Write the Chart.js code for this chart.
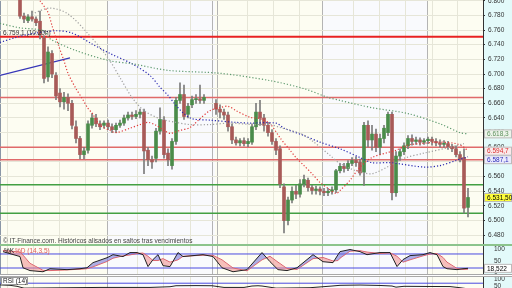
<!DOCTYPE html>
<html>
<head>
<meta charset="utf-8">
<script src="https://cdn.jsdelivr.net/npm/chart.js@4"></script>
<style>
html, body { margin: 0; padding: 0; background: #fff; width: 512px; height: 288px; overflow: hidden; }
.p { position: absolute; left: 0; width: 512px; }
canvas { display: block; }
</style>
</head>
<body>
<div class="p" style="top:0;height:244px"><canvas id="main" width="512" height="244"></canvas></div>
<div class="p" style="top:244px;height:2px;background:#8cc48c"></div>
<div class="p" style="top:246px;height:28px"><canvas id="stoch" width="512" height="28"></canvas></div>
<div class="p" style="top:274px;height:1px;background:#a8a8a8"></div>
<div class="p" style="top:276px;height:1px;background:#a8a8a8"></div>
<div class="p" style="top:277px;height:11px"><canvas id="rsi" width="512" height="11"></canvas></div>
<script>
/* candles, one per bar index (null = no trading) */
const opens  = [6815,6779,6773,6778,6775,6772,6750,6696,6728,6698,6674,6662,6668,6660,6628,6612,6590,6596,6630,6640,
                6632,6630,6633,6628,6624,6630,6633,6640,6644,6642,6645,6648,6596,6583,6585,6622,6637,6592,6575,6608,
                6664,6672,6645,6658,6665,6666,6664,null,null,6660,6652,6648,6644,6628,6610,6606,6609,6605,6607,6628,
                6648,6640,6630,6620,6608,6598,6546,6500,6528,6540,6536,6550,6555,6545,6541,6543,6540,6538,6540,6542,
                6568,6574,6571,6578,6582,6580,6566,6630,6610,6618,6600,6612,6620,6645,6538,6588,6594,6602,6612,6608,
                6610,6607,6609,6611,6608,6606,6604,6605,6601,6598,6590,6586,6518];
const highs  = [6822,6783,6781,6786,6778,6786,6752,6737,6732,6702,6680,6675,6673,6664,6636,6615,6600,6636,6646,6645,
                6636,6636,6637,6632,6633,6637,6644,6648,6648,6650,6652,6652,6600,6588,6626,6654,6642,6598,6612,6668,
                6688,6685,6660,6670,6672,6685,6672,null,null,6665,6658,6652,6648,6632,6614,6612,6613,6612,6632,6660,
                6664,6645,6634,6624,6612,6602,6550,6532,6546,6548,6556,6562,6558,6548,6547,6546,6544,6544,6546,6570,
                6578,6578,6582,6586,6587,6584,6634,6636,6630,6625,6618,6630,6648,6648,6594,6598,6606,6616,6617,6614,
                6613,6612,6614,6614,6612,6610,6609,6608,6604,6602,6594,6598,6544];
const lows   = [6776,6770,6770,6772,6766,6748,6688,6690,6695,6665,6655,6652,6650,6625,6606,6584,6584,6592,6626,6628,
                6624,6626,6624,6620,6620,6627,6630,6637,6638,6639,6640,6564,6575,6571,6580,6618,6585,6575,6570,6604,
                6660,6638,6640,6654,6660,6660,6660,null,null,6645,6640,6638,6622,6605,6603,6602,6602,6601,6604,6624,
                6630,6622,6615,6604,6590,6545,6483,6494,6524,6530,6532,6546,6540,6536,6536,6535,6534,6534,6536,6538,
                6565,6566,6568,6575,6574,6562,6548,6600,6596,6594,6590,6606,6616,6528,6533,6582,6590,6598,6603,6604,
                6603,6604,6605,6603,6602,6600,6600,6597,6594,6587,6580,6510,6505];
const closes = [6779,6775,6778,6775,6770,6753,6694,6730,6700,6670,6662,6668,6660,6630,6612,6590,6595,6632,6640,6632,
                6628,6633,6628,6624,6630,6633,6640,6644,6642,6645,6648,6595,6583,6580,6622,6638,6590,6583,6608,6664,
                6672,6642,6656,6665,6666,6664,6668,null,null,6652,6648,6644,6628,6610,6606,6609,6605,6608,6628,6648,
                6640,6630,6620,6608,6596,6550,6500,6528,6540,6536,6550,6556,6545,6541,6543,6540,6538,6540,6542,6568,
                6574,6571,6578,6582,6579,6565,6630,6610,6618,6600,6612,6626,6645,6538,6588,6594,6602,6612,6608,6610,
                6607,6609,6611,6608,6606,6604,6605,6601,6598,6590,6584,6517,6531.5];

/* moving averages: [bar index, value] */
const maRed   = [[5,6800],[7,6784],[8,6766],[9.5,6741],[11,6718],[12,6701],[14,6680],[15.5,6667],[17,6653],[18,6647],
                 [20,6630],[22.5,6623],[24,6620],[27.5,6626],[30,6631],[32,6634],[34,6630],[36,6623],[37.5,6619],[40,6623],
                 [42.5,6627],[45,6639],[47.5,6650],[50,6654],[52,6656],[54,6650],[57.5,6641],[60,6639],[62.5,6632],[65,6613],
                 [67.5,6596],[69,6586],[71,6575],[73,6564],[75,6552],[77,6544],[79,6537],[80,6541],[82.5,6555],[85,6573],
                 [88,6586],[92,6593],[94,6596],[97,6603],[100,6605],[105,6607],[109,6605],[111,6600],[112,6594.7]];
const maBlue  = [[-5,6743],[-1,6750],[3,6755],[9,6759],[13,6756],[18,6741],[22.5,6728],[28,6714],[32.5,6698],[35,6682],
                 [37,6671],[39,6657],[41,6646],[43,6639],[47.5,6637],[54,6634],[57.5,6633],[64,6633],[66,6626],[71,6616],
                 [75,6607],[80,6598],[85,6586],[88,6579],[92.5,6579],[101,6573],[105,6575],[109,6582],[112,6587.1]];
const maGreen = [[-5,6769],[0,6763],[6,6759],[7.5,6748],[14,6732],[22.5,6718],[28,6714],[37,6705],[50,6701],[62.5,6691],
                 [71,6680],[77,6668],[80,6664],[88,6654],[97,6646],[105,6632],[110,6620],[112,6618.3]];
const maGray  = [[3,6782],[7.5,6790],[12,6782],[17,6755],[22,6722],[25,6695],[28,6668],[31,6650],[35,6639],[39,6634],
                 [42.5,6631],[47.5,6631],[52.5,6633],[58,6631],[62.5,6631],[65,6627],[70,6619],[73,6609],[77.5,6589],[80,6578],
                 [84,6568],[88,6564],[92.5,6575],[96,6585],[101,6592],[107.5,6600],[111,6605]];
const trendLine = [[-5,6698],[12.5,6722]];
const redLevels = [6751, 6668, 6600, 6583];
const greenLevels = [6549, 6510];

/* stochastic %K / %D and RSI */
const stochX = [-4.25,0,0.75,2.5,5.75,7.5,11.75,15,16.75,18.25,21.75,23.25,25.75,27.5,29.25,30.75,32,33.25,34.5,35.75,
                37.5,39.5,40.75,45.75,48.25,50.5,53.25,56.75,60.5,62.5,64.5,66.75,69.25,73.25,75.75,78.25,79.5,80,82.5,85,
                86.75,90,92.5,94.25,95.75,97.5,100.75,102.5,104.25,105.75,106.75,109.25,110.75,112];
const stochK = [90,69,21,9,4,17,13,17,21,43,64,77,69,86,86,77,26,56,77,30,
                26,86,69,77,69,21,4,13,86,47,13,9,21,77,47,43,77,90,99,90,
                77,86,86,26,56,73,77,86,77,26,17,13,17,18.522];
const stochD = [95,88,75,40,10,9,12,15,17,25,48,62,72,76,82,84,70,52,52,60,
                45,55,70,75,74,55,20,8,55,70,45,18,14,60,65,50,52,62,92,94,
                88,82,85,70,45,55,72,80,82,65,45,18,14,15];
const rsiPts = [[-5,58],[-2.5,55],[-0.75,48],[1,35],[20,40],[32.5,40],[37.5,45],[39,52],[44,53],[48,52],
                [51,40],[56,40],[58,50],[59.5,52],[60.5,50],[64,35],[72.5,38],[78,50],[80,55],[85,57],
                [90,54],[93,50],[94,42],[96,48],[101,47],[107.5,46],[110,38],[112,30]];

/* chart frame */
const X_MIN = -5, X_MAX = 115.75;
const gridIdx = [-3.25,3.25,9.75,16.25,21.75,29.25,35.75,42.5,48,49.25,56.75,63.25,69.75,75.5,83.25,89.75,96.25,101.75,103,109.25];
const sepIdx = [21.75,48,49.25,75.5,101.75];
const dayEdges = [-5,21.75,48.75,75.5,101.75,115.75];
const dayColors = ['#fdfdf2','#f9fafd'];

function fmt(v, d) {
    const s = v.toFixed(d);
    const parts = s.split('.');
    const ip = parts[0].replace(/\B(?=(\d{3})+(?!\d))/g, '.');
    return parts[1] ? ip + ',' + parts[1] : ip;
}
const pts = arr => arr.map(p => ({x: p[0], y: p[1]}));
const FONT = '"Liberation Sans", Arial, sans-serif';

function xScale() {
    return {
        type: 'linear', min: X_MIN, max: X_MAX, offset: false,
        afterBuildTicks: s => { s.ticks = gridIdx.map(v => ({value: v})); },
        afterFit: s => { s.height = 0; },
        ticks: { display: false },
        border: { display: false },
        grid: {
            offset: false, drawTicks: false, lineWidth: 1,
            color: c => sepIdx.includes(c.tick.value) ? '#b4b4b4' : '#e6e6d8',
        },
    };
}
function yRight(min, max, extra) {
    return Object.assign({
        position: 'right', min: min, max: max,
        afterFit: s => { s.width = 29; s.paddingTop = 0; s.paddingBottom = 0; },
        border: { color: '#333', width: 1 },
    }, extra);
}

const background = {
    id: 'background',
    beforeDraw(chart) {
        const {ctx, chartArea: a, scales: {x}} = chart;
        ctx.save();
        for (let i = 0; i < dayEdges.length - 1; i++) {
            const x0 = x.getPixelForValue(dayEdges[i]), x1 = x.getPixelForValue(dayEdges[i + 1]);
            ctx.fillStyle = dayColors[i % 2];
            ctx.fillRect(x0, a.top, x1 - x0, a.bottom - a.top);
        }
        ctx.fillStyle = '#e3fafa';
        ctx.fillRect(a.right, 0, chart.width - a.right, chart.height);
        ctx.fillStyle = '#8a96a6';
        ctx.fillRect(0, a.top, 1, a.bottom - a.top);
        ctx.restore();
    }
};

function box(ctx, x, y, w, text, fg, bg) {
    ctx.fillStyle = bg;
    ctx.fillRect(x, y - 4.5, w, 9);
    ctx.strokeStyle = '#bbb';
    ctx.lineWidth = 1;
    ctx.strokeRect(x + 0.5, y - 4, w - 1, 8);
    ctx.fillStyle = fg;
    ctx.textBaseline = 'middle';
    ctx.textAlign = 'left';
    ctx.fillText(text, x + 3, y + 0.5);
}

const mainLabels = {
    id: 'mainLabels',
    afterDraw(chart) {
        const {ctx, chartArea: a, scales: {y}} = chart;
        ctx.save();
        ctx.font = '6.5px ' + FONT;
        const tags = [
            {v: maGreen[maGreen.length - 1][1], t: fmt(maGreen[maGreen.length - 1][1], 1), fg: '#5d8f5d', bg: '#edf4ea'},
            {v: maRed[maRed.length - 1][1], t: fmt(maRed[maRed.length - 1][1], 1), fg: '#d83030', bg: '#fbe9ea'},
            {v: maBlue[maBlue.length - 1][1], t: fmt(maBlue[maBlue.length - 1][1], 1), fg: '#2c2cb8', bg: '#eaeafc'},
            {v: closes[closes.length - 1], t: fmt(closes[closes.length - 1], 2), fg: '#000', bg: '#ffff3a'},
        ];
        let prev = -99;
        tags.map(g => Object.assign(g, {py: y.getPixelForValue(g.v)}))
            .sort((p, q) => p.py - q.py)
            .forEach(g => {
                const py = Math.max(g.py, prev + 8.5);
                prev = py;
                box(ctx, a.right + 1, py, chart.width - a.right - 1, g.t, g.fg, g.bg);
            });
        ctx.fillStyle = '#333';
        ctx.textBaseline = 'middle';
        ctx.fillText('6.759,1 (10:20h)', 3, 33);
        ctx.fillStyle = '#444';
        ctx.fillText('© IT-Finance.com. Históricos alisados en saltos tras vencimientos', 3, 241);
        ctx.restore();
    }
};

const up = closes.map((c, i) => c != null && c >= opens[i]);
const idx = opens.map((o, i) => i).filter(i => opens[i] != null);

const levelSet = (vals, color, width) => vals.map(v => ({
    type: 'line', data: [{x: X_MIN, y: v}, {x: X_MAX, y: v}],
    borderColor: color, borderWidth: width, pointRadius: 0, order: 5,
}));
const maSet = (arr, color) => ({
    type: 'line', data: pts(arr), borderColor: color, borderWidth: 1.2,
    borderDash: [1.2, 2], pointRadius: 0, tension: 0.3, order: 0,
});

const sideTicks = {
    padding: 3, color: '#333', autoSkip: false,
    font: { size: 6.5, family: FONT },
};

new Chart(document.getElementById('main'), {
    type: 'bar',
    data: {
        datasets: [
            ...levelSet(redLevels.slice(0, 1), '#e82222', 2),
            ...levelSet(redLevels.slice(1), '#e06a6a', 1.5),
            ...levelSet(greenLevels, '#43a043', 1.5),
            {
                type: 'line', data: pts(trendLine), borderColor: '#3535b8', borderWidth: 1.2,
                pointRadius: 0, order: 4,
            },
            {
                data: idx.map(i => ({x: i, y: [lows[i], highs[i]]})),
                backgroundColor: '#7c7c7c', barThickness: 1, grouped: false, order: 3,
            },
            {
                data: idx.map(i => ({x: i, y: [opens[i], closes[i]]})),
                backgroundColor: idx.map(i => up[i] ? '#4a8c4a' : '#a85a58'),
                barThickness: 3, minBarLength: 1, grouped: false, order: 2,
            },
            maSet(maGreen, '#5f9a6f'),
            maSet(maGray, '#a0a0a0'),
            maSet(maBlue, '#2a2ab0'),
            maSet(maRed, '#e03a3a'),
        ],
    },
    options: {
        responsive: false, animation: false, events: [],
        layout: { padding: 0 },
        plugins: { legend: { display: false }, tooltip: { enabled: false } },
        scales: {
            x: xScale(),
            y: yRight(6468, 6801, {
                ticks: Object.assign({ stepSize: 20, includeBounds: false, callback: v => fmt(v, 0) }, sideTicks),
                grid: { color: '#e6e6d8', tickLength: 2, tickColor: '#333' },
            }),
        },
    },
    plugins: [background, mainLabels],
});

const stochLabels = {
    id: 'stochLabels',
    afterDraw(chart) {
        const {ctx, chartArea: a, scales: {y}} = chart;
        ctx.save();
        ctx.font = '6.5px ' + FONT;
        const last = stochK[stochK.length - 1];
        box(ctx, a.right + 1, y.getPixelForValue(last), chart.width - a.right - 1, fmt(last, 3), '#000', '#fff');
        ctx.textBaseline = 'middle';
        ctx.fillStyle = '#222';
        ctx.fillText('%K', 4, 5);
        ctx.fillStyle = '#e05a5a';
        ctx.fillText('%D (14,3,5)', 15, 5);
        ctx.restore();
    }
};

new Chart(document.getElementById('stoch'), {
    type: 'line',
    data: {
        datasets: [
            {
                data: stochX.map((x, i) => ({x: x, y: stochK[i]})),
                borderColor: '#222', borderWidth: 1, pointRadius: 0,
                fill: { target: 1, above: 'rgba(110,110,215,0.55)', below: 'rgba(240,140,140,0.55)' },
            },
            {
                data: stochX.map((x, i) => ({x: x, y: stochD[i]})),
                borderColor: '#e86060', borderWidth: 1, pointRadius: 0,
            },
            {
                data: [{x: X_MIN, y: 80}, {x: X_MAX, y: 80}],
                borderColor: '#4a4ae0', borderWidth: 1, pointRadius: 0,
            },
            {
                data: [{x: X_MIN, y: 20}, {x: X_MAX, y: 20}],
                borderColor: '#4a4ae0', borderWidth: 1, pointRadius: 0,
            },
        ],
    },
    options: {
        responsive: false, animation: false, events: [],
        layout: { padding: 0 },
        plugins: { legend: { display: false }, tooltip: { enabled: false } },
        scales: {
            x: xScale(),
            y: yRight(-5.6, 114.1, {
                ticks: Object.assign({ stepSize: 50, includeBounds: false }, sideTicks),
                grid: { display: false },
            }),
        },
    },
    plugins: [background, stochLabels],
});

const rsiLabels = {
    id: 'rsiLabels',
    afterDraw(chart) {
        const {ctx} = chart;
        ctx.save();
        ctx.font = '6.5px ' + FONT;
        ctx.fillStyle = '#fff';
        ctx.fillRect(1, 0, 27, 7);
        ctx.strokeStyle = '#999';
        ctx.strokeRect(1.5, 0.5, 26, 7);
        ctx.fillStyle = '#222';
        ctx.textBaseline = 'middle';
        ctx.fillText('RSI (14)', 3, 4);
        ctx.restore();
    }
};

new Chart(document.getElementById('rsi'), {
    type: 'line',
    data: {
        datasets: [
            {
                data: pts(rsiPts), borderColor: '#222', borderWidth: 1, pointRadius: 0,
            },
            {
                data: [{x: X_MIN, y: 70}, {x: X_MAX, y: 70}],
                borderColor: '#4a4ae0', borderWidth: 1, pointRadius: 0,
            },
        ],
    },
    options: {
        responsive: false, animation: false, events: [],
        layout: { padding: 0 },
        plugins: { legend: { display: false }, tooltip: { enabled: false } },
        scales: {
            x: xScale(),
            y: yRight(36, 114, {
                ticks: Object.assign({ stepSize: 50, includeBounds: false }, sideTicks),
                grid: { display: false },
            }),
        },
    },
    plugins: [background, rsiLabels],
});
</script>
</body>
</html>
